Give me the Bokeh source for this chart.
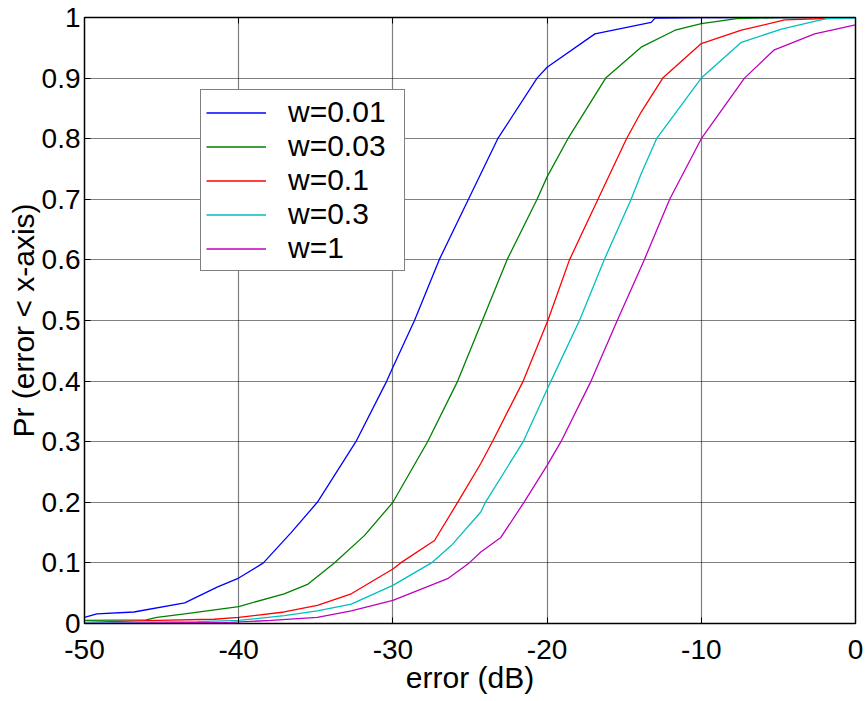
from bokeh.plotting import figure
from bokeh.models import Range1d, FixedTicker, Legend, LegendItem, LinearAxis
from bokeh.embed import file_html
from bokeh.resources import INLINE

# ---- data ----
x_w001 = [-50, -49.2, -46.8, -43.5, -41.4, -40, -38.4, -36.6, -34.9, -32.4, -30.4, -30, -28.6, -27.0, -25.1, -23.2, -20.65, -20, -16.9, -13.25, -13.0, -10, 0]
y_w001 = [0.010, 0.016, 0.019, 0.034, 0.060, 0.075, 0.10, 0.15, 0.20, 0.30, 0.40, 0.423, 0.50, 0.60, 0.70, 0.80, 0.90, 0.918, 0.973, 0.992, 0.999, 1.0, 1.0]

x_w003 = [-50, -46, -45.3, -43.5, -40, -37.05, -35.5, -33.8, -31.85, -30.0, -27.75, -25.8, -24.2, -22.6, -20.65, -20, -18.65, -16.2, -13.9, -11.7, -10, -7.7, -5, 0]
y_w003 = [0.005, 0.006, 0.010, 0.016, 0.028, 0.049, 0.065, 0.10, 0.145, 0.20, 0.30, 0.40, 0.50, 0.60, 0.70, 0.737, 0.80, 0.90, 0.951, 0.979, 0.990, 0.998, 1.0, 1.0]

x_w01 = [-50, -45.3, -41.6, -40, -37.05, -34.9, -32.7, -30, -29.5, -27.3, -25.8, -24.3, -23.55, -21.55, -19.95, -18.55, -16.7, -14.85, -13.9, -12.5, -10, -7.4, -4.6, 0]
y_w01 = [0.002, 0.005, 0.007, 0.010, 0.019, 0.030, 0.049, 0.090, 0.10, 0.137, 0.20, 0.264, 0.30, 0.40, 0.50, 0.60, 0.70, 0.80, 0.844, 0.90, 0.957, 0.979, 0.996, 1.0]

x_w03 = [-50, -42.7, -40, -37.05, -34.9, -32.7, -30, -27.5, -26.2, -24.3, -24.0, -21.55, -19.75, -17.9, -16.3, -14.55, -13.9, -12.9, -10.0, -7.4, -4.8, -1.9, 0]
y_w03 = [0.001, 0.003, 0.005, 0.013, 0.021, 0.032, 0.063, 0.10, 0.129, 0.184, 0.20, 0.30, 0.40, 0.50, 0.60, 0.70, 0.742, 0.80, 0.90, 0.959, 0.981, 0.998, 0.999]

x_w1 = [-50, -40.5, -37.9, -34.9, -32.7, -30, -26.45, -25.05, -24.3, -23.0, -21.5, -20, -19.1, -17.15, -15.45, -13.7, -12.05, -10.0, -7.2, -5.3, -2.65, 0]
y_w1 = [0.0, 0.002, 0.005, 0.010, 0.021, 0.038, 0.074, 0.10, 0.118, 0.142, 0.20, 0.261, 0.30, 0.40, 0.50, 0.60, 0.70, 0.80, 0.90, 0.946, 0.973, 0.988]

series_labels = ["w=0.01", "w=0.03", "w=0.1", "w=0.3", "w=1"]
series_colors = ["#0000FF", "#008000", "#FF0000", "#00BFBF", "#BF00BF"]

x_ticks = [-50, -40, -30, -20, -10, 0]
y_ticks = [0, 0.1, 0.2, 0.3, 0.4, 0.5, 0.6, 0.7, 0.8, 0.9, 1.0]
y_tick_labels = ["0", "0.1", "0.2", "0.3", "0.4", "0.5", "0.6", "0.7", "0.8", "0.9", "1"]
x_label = "error (dB)"
y_label = "Pr (error < x-axis)"

FONT = "Liberation Sans"

p = figure(width=867, height=701, output_backend="svg", toolbar_location=None,
           x_range=Range1d(-50, 0), y_range=Range1d(0, 1),
           min_border_left=84, min_border_right=12, min_border_top=17, min_border_bottom=78)

p.background_fill_color = "white"
p.border_fill_color = "white"
p.outline_line_color = "black"
p.outline_line_width = 1.5
p.outline_line_alpha = 1

xs_all = [x_w001, x_w003, x_w01, x_w03, x_w1]
ys_all = [y_w001, y_w003, y_w01, y_w03, y_w1]
items = []
for xs, ys, lab, col in zip(xs_all, ys_all, series_labels, series_colors):
    r = p.line(xs, ys, line_color=col, line_width=1.3)
    items.append(LegendItem(label=lab, renderers=[r]))

xax = p.below[0]
yax = p.left[0]

# mirrored tick marks on the top and right edges (box style), without labels
top_axis = LinearAxis(ticker=FixedTicker(ticks=x_ticks), major_label_text_font_size="0px",
                      major_label_standoff=0)
right_axis = LinearAxis(ticker=FixedTicker(ticks=y_ticks), major_label_text_font_size="0px",
                        major_label_standoff=0)
for ax in (top_axis, right_axis):
    ax.major_tick_in = 6
    ax.major_tick_out = 0
    ax.minor_tick_line_color = None
    ax.axis_line_color = "black"
    ax.major_tick_line_color = "black"
    ax.major_label_text_alpha = 0
p.add_layout(top_axis, "above")
p.add_layout(right_axis, "right")

xax.ticker = FixedTicker(ticks=x_ticks)
yax.ticker = FixedTicker(ticks=y_ticks)
yax.major_label_overrides = {t: l for t, l in zip(y_ticks, y_tick_labels)}
xax.major_label_overrides = {t: str(t) for t in x_ticks}

for ax in (xax, yax):
    ax.major_label_text_font = FONT
    ax.major_label_text_font_size = "28px"
    ax.major_label_text_color = "black"
    ax.axis_label_text_font = FONT
    ax.axis_label_text_font_size = "30px"
    ax.axis_label_text_font_style = "normal"
    ax.axis_label_text_color = "black"
    ax.major_tick_in = 6
    ax.major_tick_out = 0
    ax.minor_tick_line_color = None
    ax.axis_line_color = "black"
    ax.major_tick_line_color = "black"

xax.axis_label = x_label
yax.axis_label = y_label
xax.major_label_standoff = 16
xax.axis_label_standoff = -1
yax.major_label_standoff = 4
yax.axis_label_standoff = -1

for g in (p.xgrid[0], p.ygrid[0]):
    g.grid_line_color = "black"
    g.grid_line_dash = "1 1"
    g.grid_line_width = 1.2
    g.grid_line_alpha = 1
p.xgrid.ticker = FixedTicker(ticks=x_ticks)
p.ygrid.ticker = FixedTicker(ticks=y_ticks)

legend = Legend(items=items, location=(116, 352))
legend.label_text_font = FONT
legend.label_text_font_size = "30px"
legend.label_text_color = "black"
legend.glyph_width = 60
legend.glyph_height = 33
legend.label_height = 33
legend.label_width = 111
legend.label_standoff = 22
legend.spacing = -3
legend.padding = 5
legend.margin = 0
legend.border_line_color = "black"
legend.border_line_width = 1.5
legend.background_fill_alpha = 1
p.add_layout(legend, "center")

open("out.html", "w").write(file_html(p, INLINE))
